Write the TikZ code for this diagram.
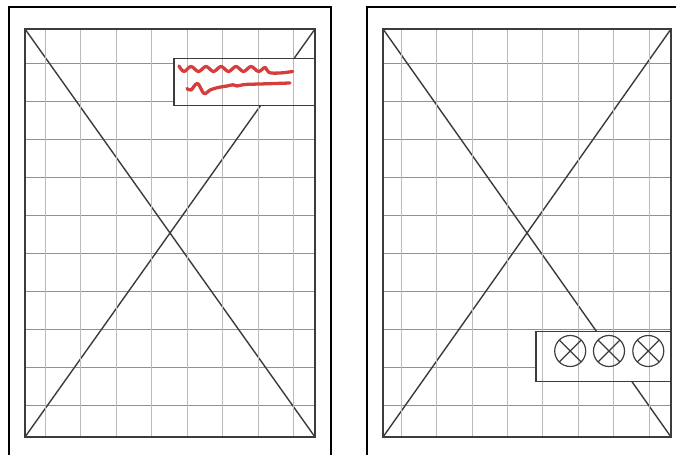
\documentclass[tikz,border=0pt]{standalone}

\definecolor{gridv}{RGB}{190,184,184}
\definecolor{gridh}{RGB}{145,145,145}
\definecolor{ink}{RGB}{60,60,60}
\definecolor{redink}{RGB}{214,62,62}

\begin{document}
\begin{tikzpicture}[
	x=0.03cm, y=-0.03cm,
	gv/.style = {draw=gridv, line width=0.85pt},
	gh/.style = {draw=gridh, line width=0.8pt},
	fr/.style = {draw=black, line width=1.7pt},
	dg/.style = {draw=ink, line width=1.2pt},
	bx/.style = {draw=ink, line width=1.3pt},
	wv/.style = {draw=redink, line width=2.8pt, line cap=round, line join=round},
	lamp/.style = {circle, draw=ink, line width=1pt, minimum size=0.93cm, inner sep=0pt,
		path picture={\draw[ink, line width=1pt]
			(path picture bounding box.north west) -- (path picture bounding box.south east)
			(path picture bounding box.north east) -- (path picture bounding box.south west);}}
	]
	
	\path[use as bounding box] (0, 0) rectangle (676, 455);
	\clip (0, 0) rectangle (676, 455);
	
	% === === === Corners === === ===
	\coordinate	(L-nw)	at	(25, 29);
	\coordinate	(L-ne)	at	(315, 29);
	\coordinate	(L-sw)	at	(25, 437);
	\coordinate	(L-se)	at	(315, 437);
	\coordinate	(Lb-nw)	at	(174, 58.3);
	\coordinate	(Lb-se)	at	(315, 105.5);
	
	\coordinate	(R-nw)	at	(383, 29);
	\coordinate	(R-ne)	at	(671, 29);
	\coordinate	(R-sw)	at	(383, 437);
	\coordinate	(R-se)	at	(671, 437);
	\coordinate	(Rb-nw)	at	(536, 331.7);
	\coordinate	(Rb-se)	at	(671, 381.7);
	
	
	
	% === === === Left sheet === === ===
	\draw[fr] (9, 470) -- (9, 7) -- (331, 7) -- (331, 470);
	
	\draw[gh] (25, 63) -- (315, 63);
	\draw[gh] (25, 101) -- (315, 101);
	\draw[gh] (25, 139) -- (315, 139);
	\draw[gh] (25, 177) -- (315, 177);
	\draw[gh] (25, 215) -- (315, 215);
	\draw[gh] (25, 253) -- (315, 253);
	\draw[gh] (25, 291) -- (315, 291);
	\draw[gh] (25, 329) -- (315, 329);
	\draw[gh] (25, 367) -- (315, 367);
	\draw[gh] (25, 405) -- (315, 405);
	
	\draw[dg] (L-nw) -- (L-se);
	\draw[dg] (L-sw) -- (L-ne);
	
	\fill[white] (Lb-nw) rectangle (Lb-se);
	
	\draw[gv] (45, 29) -- (45, 437);
	\draw[gv] (80.5, 29) -- (80.5, 437);
	\draw[gv] (116, 29) -- (116, 437);
	\draw[gv] (151.5, 29) -- (151.5, 437);
	\draw[gv] (187, 29) -- (187, 437);
	\draw[gv] (222.5, 29) -- (222.5, 437);
	\draw[gv] (258, 29) -- (258, 437);
	\draw[gv] (293.5, 29) -- (293.5, 437);
	
	\draw[bx] (L-nw) rectangle (L-se);
	\draw[bx] (Lb-nw) rectangle (Lb-se);
	
	% scribbled note
	\draw[wv] plot[smooth, tension=0.6] coordinates {(179, 66) (184, 71.5) (191, 66.5) (198.5, 71.5) (206, 66.5) (213.5, 71.5) (221, 66.5) (228.5, 71.5) (236, 66.5) (243.5, 71.5) (251, 66.5) (258.5, 71.5) (265, 67.5) (269, 72.5) (280, 73) (292.7, 71.5)};
	\draw[wv] plot[smooth, tension=0.6] coordinates {(187, 88.5) (191, 90) (197.5, 83.5) (204, 93.5) (210, 90) (218, 87.5) (227, 86) (233, 84.8) (237, 86) (245, 84.5) (260, 84) (275, 83.5) (290, 83)};
	
	
	
	% === === === Right sheet === === ===
	\draw[fr] (367, 470) -- (367, 7) -- (690, 7);
	
	\draw[gh] (383, 63) -- (671, 63);
	\draw[gh] (383, 101) -- (671, 101);
	\draw[gh] (383, 139) -- (671, 139);
	\draw[gh] (383, 177) -- (671, 177);
	\draw[gh] (383, 215) -- (671, 215);
	\draw[gh] (383, 253) -- (671, 253);
	\draw[gh] (383, 291) -- (671, 291);
	\draw[gh] (383, 329) -- (671, 329);
	\draw[gh] (383, 367) -- (671, 367);
	\draw[gh] (383, 405) -- (671, 405);
	
	\draw[dg] (R-nw) -- (R-se);
	\draw[dg] (R-sw) -- (R-ne);
	
	\fill[white] (Rb-nw) rectangle (Rb-se);
	
	\draw[gv] (401.7, 29) -- (401.7, 437);
	\draw[gv] (436.7, 29) -- (436.7, 437);
	\draw[gv] (472, 29) -- (472, 437);
	\draw[gv] (507.7, 29) -- (507.7, 437);
	\draw[gv] (542.7, 29) -- (542.7, 437);
	\draw[gv] (578.3, 29) -- (578.3, 437);
	\draw[gv] (613.7, 29) -- (613.7, 437);
	\draw[gv] (649.3, 29) -- (649.3, 437);
	
	\draw[bx] (R-nw) rectangle (R-se);
	\draw[bx] (Rb-nw) rectangle (Rb-se);
	
	% lamps
	\node[lamp]	(l-1)	at	(570.2, 351)	{};
	\node[lamp]	(l-2)	at	(609, 351)	{};
	\node[lamp]	(l-3)	at	(648.3, 351)	{};
	
	
\end{tikzpicture}
\end{document}
